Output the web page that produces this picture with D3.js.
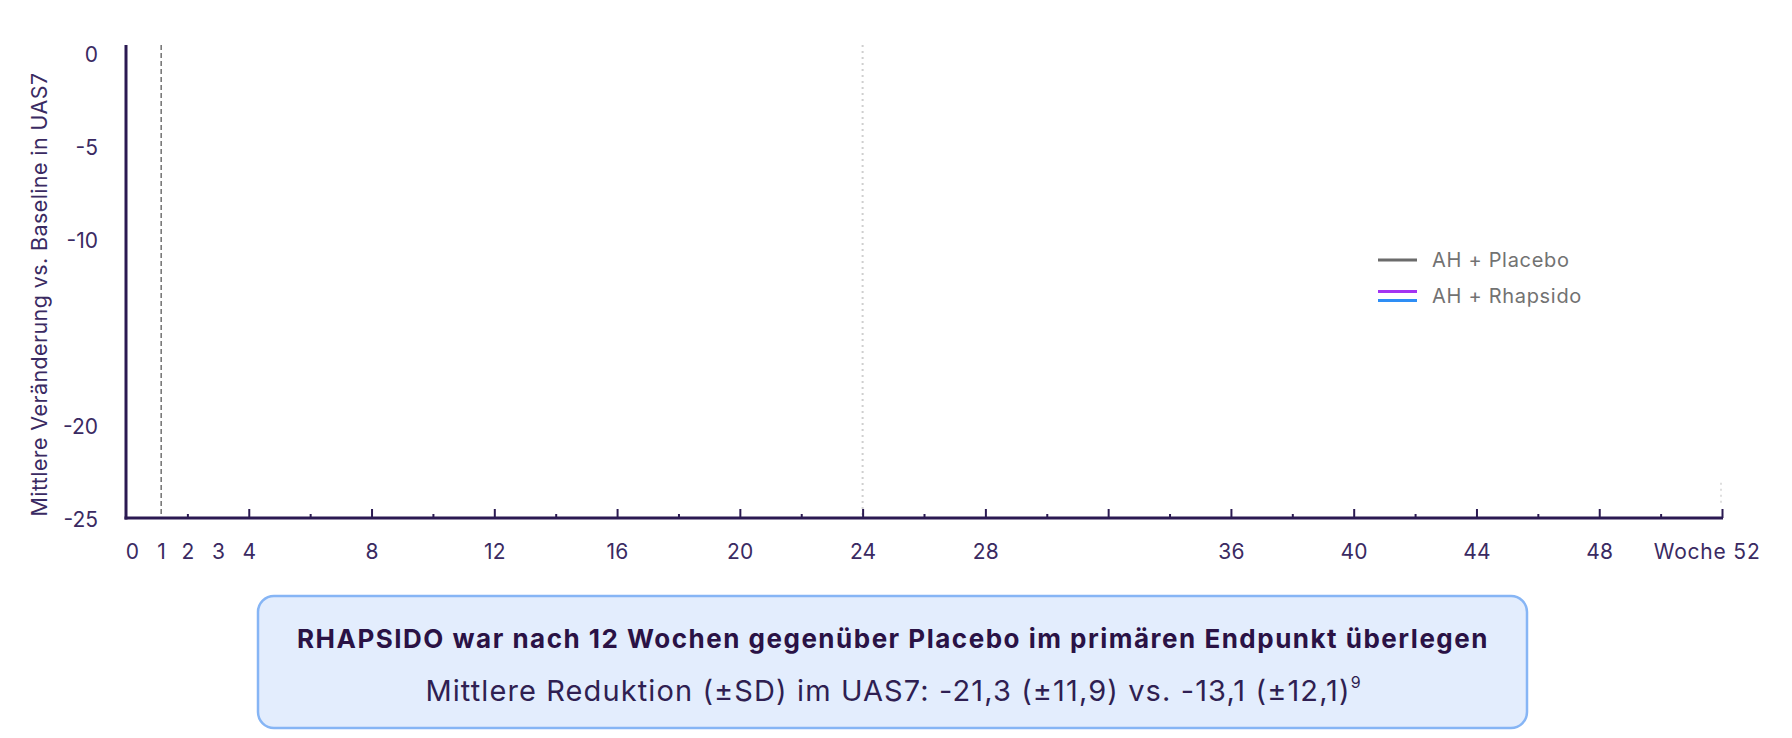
<!DOCTYPE html>
<html>
<head>
<meta charset="utf-8">
<script src="https://cdn.jsdelivr.net/npm/d3@7"></script>
<style>
  html, body { margin: 0; padding: 0; background: #ffffff; }
  svg { display: block; font-family: Inter, "Noto Sans", sans-serif; }
</style>
</head>
<body>
<svg id="chart" width="1792" height="738"></svg>
<script>
// ---- data ----
const xLabelWeeks = [0, 1, 2, 3, 4, 8, 12, 16, 20, 24, 28, 36, 40, 44, 48, 52];
const xLabelTexts = ["0", "1", "2", "3", "4", "8", "12", "16", "20", "24", "28", "36", "40", "44", "48", "Woche 52"];
const majorTickWeeks = [4, 8, 12, 16, 20, 24, 28, 32, 36, 40, 44, 48, 52];
const minorTickWeeks = [2, 6, 10, 14, 18, 22, 26, 30, 34, 38, 42, 46, 50];
const yTickValues = [0, -5, -10, -20, -25];
const yTickTexts = ["0", "-5", "-10", "-20", "-25"];
const weekDomain = [0, 52];
const valueDomain = [-25, 0];
const dashedRefWeek = [1];
const dottedRefWeek = [24];
const endRefWeek = [52];
const seriesNames = ["AH + Placebo", "AH + Rhapsido"];
const seriesColors = [["#6b6b6b"], ["#a334f2", "#2e8ef5"]];
// series values (no data points are drawn in the reference at this state)
const placeboValues = [];
const rhapsidoValues = [];
const yAxisTitle = "Mittlere Veränderung vs. Baseline in UAS7";
const boxTitle = "RHAPSIDO war nach 12 Wochen gegenüber Placebo im primären Endpunkt überlegen";
const boxText = "Mittlere Reduktion (±SD) im UAS7: -21,3 (±11,9) vs. -13,1 (±12,1)";
const boxSup = "9";

// ---- layout ----
const svg = d3.select("#chart");
const axisColor = "#2b1a52";
const textColor = "#3a2a62";

const x = d3.scaleLinear().domain(weekDomain).range([126, 1722]);
const y = d3.scaleLinear().domain(valueDomain).range([518, 53]);

// reference lines
svg.selectAll(".dotted-ref").data(dottedRefWeek).join("line")
  .attr("x1", d => x(d)).attr("x2", d => x(d))
  .attr("y1", y(0) - 8).attr("y2", y(-25))
  .attr("stroke", "#cfcfcf").attr("stroke-width", 2)
  .attr("stroke-dasharray", "2,4");

svg.selectAll(".end-ref").data(endRefWeek).join("line")
  .attr("x1", d => x(d) - 1).attr("x2", d => x(d) - 1)
  .attr("y1", y(-23.1)).attr("y2", y(-24.2))
  .attr("stroke", "#dedede").attr("stroke-width", 2)
  .attr("stroke-dasharray", "2,4");

svg.selectAll(".dashed-ref").data(dashedRefWeek).join("line")
  .attr("x1", d => x(d) + 4.5).attr("x2", d => x(d) + 4.5)
  .attr("y1", y(0) - 8).attr("y2", y(-25))
  .attr("stroke", "#7a7a7a").attr("stroke-width", 1.6)
  .attr("stroke-dasharray", "5,3");

// major & minor ticks (pointing up)
const gMajor = svg.append("g").attr("transform", `translate(0,${y(-25)})`)
  .call(d3.axisTop(x).tickValues(majorTickWeeks).tickSize(9).tickFormat(""));
gMajor.select(".domain").remove();
gMajor.selectAll(".tick line").attr("stroke", axisColor).attr("stroke-width", 2);

const gMinor = svg.append("g").attr("transform", `translate(0,${y(-25)})`)
  .call(d3.axisTop(x).tickValues(minorTickWeeks).tickSize(4).tickFormat(""));
gMinor.select(".domain").remove();
gMinor.selectAll(".tick line").attr("stroke", axisColor).attr("stroke-width", 2);

// x labels
const gXLab = svg.append("g").attr("transform", `translate(0,${y(-25)})`)
  .call(d3.axisBottom(x).tickValues(xLabelWeeks).tickSize(0).tickPadding(26)
    .tickFormat((d, i) => xLabelTexts[i]));
gXLab.select(".domain").remove();
gXLab.selectAll(".tick text")
  .attr("font-family", "Inter, sans-serif")
  .attr("font-size", 21)
  .attr("letter-spacing", d => d === 52 ? 0.8 : 0.2)
  .attr("fill", textColor)
  .attr("text-anchor", d => d === 52 ? "end" : "middle")
  .attr("dx", d => d === 52 ? 38 : (d === 0 ? 6 : (d === 1 ? 4.5 : 0)));

// y labels
const gY = svg.append("g").attr("transform", `translate(${x(0)},0)`)
  .call(d3.axisLeft(y).tickValues(yTickValues).tickSize(0).tickPadding(28)
    .tickFormat((d, i) => yTickTexts[i]));
gY.select(".domain").remove();
gY.selectAll(".tick text")
  .attr("font-family", "Inter, sans-serif")
  .attr("font-size", 21)
  .attr("fill", textColor)
  .attr("dy", "0.42em");

// axis lines
svg.append("line")
  .attr("x1", x(0)).attr("x2", x(0))
  .attr("y1", y(0) - 8).attr("y2", y(-25) + 1.5)
  .attr("stroke", axisColor).attr("stroke-width", 3);
svg.append("line")
  .attr("x1", x(0) - 1.5).attr("x2", x(52) + 1)
  .attr("y1", y(-25)).attr("y2", y(-25))
  .attr("stroke", axisColor).attr("stroke-width", 3);

// y axis title
svg.append("text")
  .attr("transform", `translate(47,${(y(0) + y(-25)) / 2 + 9}) rotate(-90)`)
  .attr("text-anchor", "middle")
  .attr("font-size", 21.5)
  .attr("letter-spacing", 0.4)
  .attr("fill", textColor)
  .text(yAxisTitle);

// legend
const legend = svg.append("g").attr("transform", "translate(1378,260)");
const legendRows = legend.selectAll("g").data(seriesNames).join("g")
  .attr("transform", (d, i) => `translate(0,${i * 36})`);
legendRows.each(function(d, i) {
  const row = d3.select(this);
  const cols = seriesColors[i];
  cols.forEach((c, j) => {
    const off = cols.length === 1 ? 0 : (j === 0 ? -4.5 : 4.5);
    row.append("line")
      .attr("x1", 0).attr("x2", 39)
      .attr("y1", off).attr("y2", off)
      .attr("stroke", c).attr("stroke-width", 3);
  });
  row.append("text")
    .attr("x", 54).attr("y", 0).attr("dy", "0.35em")
    .attr("font-size", 20)
    .attr("letter-spacing", 0.7)
    .attr("fill", "#727272")
    .text(d);
});

// info box
svg.append("rect")
  .attr("x", 258).attr("y", 596).attr("width", 1269).attr("height", 132)
  .attr("rx", 16).attr("ry", 16)
  .attr("fill", "#e3edfd").attr("stroke", "#86b5f5").attr("stroke-width", 2.5);

svg.append("text")
  .attr("x", 893).attr("y", 648)
  .attr("text-anchor", "middle")
  .attr("font-size", 26).attr("font-weight", 700)
  .attr("letter-spacing", 1.5)
  .attr("fill", "#2a1245")
  .text(boxTitle);

const t2 = svg.append("text")
  .attr("x", 893).attr("y", 701)
  .attr("text-anchor", "middle")
  .attr("font-size", 29).attr("font-weight", 400)
  .attr("letter-spacing", 1.1)
  .attr("fill", "#2f1f52");
t2.append("tspan").text(boxText);
t2.append("tspan").attr("font-size", 16).attr("dy", -13).attr("letter-spacing", 0).text(boxSup);
</script>
</body>
</html>
